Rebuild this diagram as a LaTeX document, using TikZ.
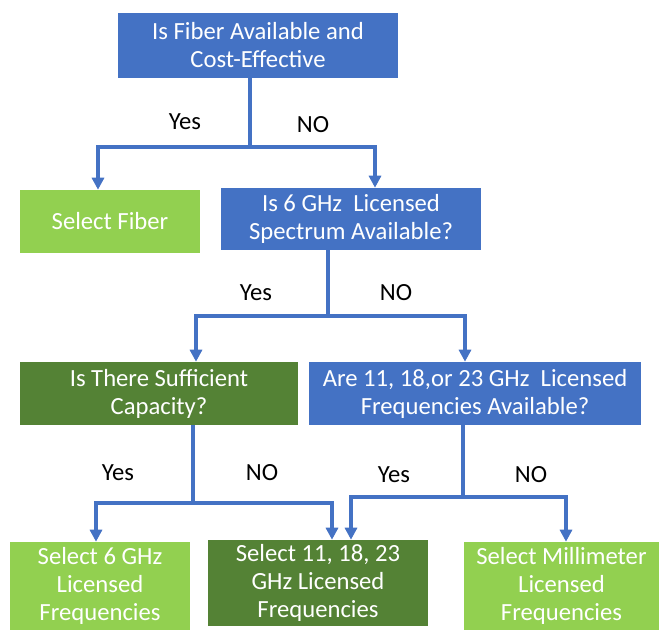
\documentclass[tikz,border=0pt]{standalone}
\usepackage{fontspec}
\setmainfont{Carlito}
\usepackage{tikz}
\usetikzlibrary{arrows.meta}

\definecolor{boxblue}{HTML}{4472C4}
\definecolor{lightgreen}{HTML}{92D050}
\definecolor{darkgreen}{HTML}{548235}

\tikzset{
  box/.style={fill=#1, text=white, align=center, inner sep=0pt,
    font=\fontsize{18.5}{21}\selectfont},
  link/.style={draw=boxblue, line width=2.3pt},
  arrow/.style={link, -{Triangle[width=9pt, length=9pt]}},
  lbl/.style={font=\fontsize{18.5}{21}\selectfont}
}

\begin{document}
\begin{tikzpicture}[x=0.75pt, y=-0.75pt]

  \useasboundingbox (0,0) rectangle (661,639);

  % Decision boxes
  \node[box=boxblue, minimum width=210pt, minimum height=48.75pt] (fiberq) at (258,45.5) {Is Fiber Available and\\Cost-Effective};
  \node[box=lightgreen, minimum width=135pt, minimum height=47.25pt] (fiber) at (110,221.5) {Select Fiber};
  \node[box=boxblue, minimum width=195pt, minimum height=46.5pt] (sixq) at (351,219) {Is 6 GHz~~Licensed\\Spectrum Available?};
  \node[box=darkgreen, minimum width=208.5pt, minimum height=47.25pt] (capq) at (159,393.5) {Is There Sufficient\\Capacity?};
  \node[box=boxblue, minimum width=249pt, minimum height=47.25pt] (highq) at (475,393.5) {Are 11, 18,or 23 GHz~~Licensed\\Frequencies Available?};

  % Result boxes
  \node[box=lightgreen, minimum width=135pt, minimum height=66pt] (six) at (100,586) {Select 6 GHz\\Licensed\\Frequencies};
  \node[box=darkgreen, minimum width=165pt, minimum height=64.5pt] (high) at (318,583) {Select 11, 18, 23\\GHz Licensed\\Frequencies};
  \node[box=lightgreen, minimum width=146pt, minimum height=66pt] (mm) at (561.5,586) {Select Millimeter\\Licensed\\Frequencies};

  % Junctions
  \coordinate (j1) at (250,147);
  \coordinate (j2) at (328,316);
  \coordinate (j3) at (193,503);
  \coordinate (j4) at (463,497);

  % Connectors
  \draw[link] (fiberq.south -| j1) -- (j1);
  \draw[arrow] (j1) -| (fiber.north -| 98,0);
  \draw[arrow] (j1) -| (sixq.north -| 375,0);

  \draw[link] (sixq.south -| j2) -- (j2);
  \draw[arrow] (j2) -| (capq.north -| 196,0);
  \draw[arrow] (j2) -| (highq.north -| 465,0);

  \draw[link] (capq.south -| j3) -- (j3);
  \draw[arrow] (j3) -| (six.north -| 96,0);
  \draw[arrow] (j3) -| (high.north -| 332,0);

  \draw[link] (highq.south -| j4) -- (j4);
  \draw[arrow] (j4) -| (high.north -| 351,0);
  \draw[arrow] (j4) -| (mm.north -| 566,0);

  % Branch labels
  \node[lbl] (yes1) at (185,122) {Yes};
  \node[lbl] (no1) at (313,125) {NO};
  \node[lbl] (yes2) at (256,293) {Yes};
  \node[lbl] (no2) at (396,293) {NO};
  \node[lbl] (yes3) at (118,473) {Yes};
  \node[lbl] (no3) at (262,473) {NO};
  \node[lbl] (yes4) at (394,475) {Yes};
  \node[lbl] (no4) at (531,475) {NO};

\end{tikzpicture}
\end{document}
